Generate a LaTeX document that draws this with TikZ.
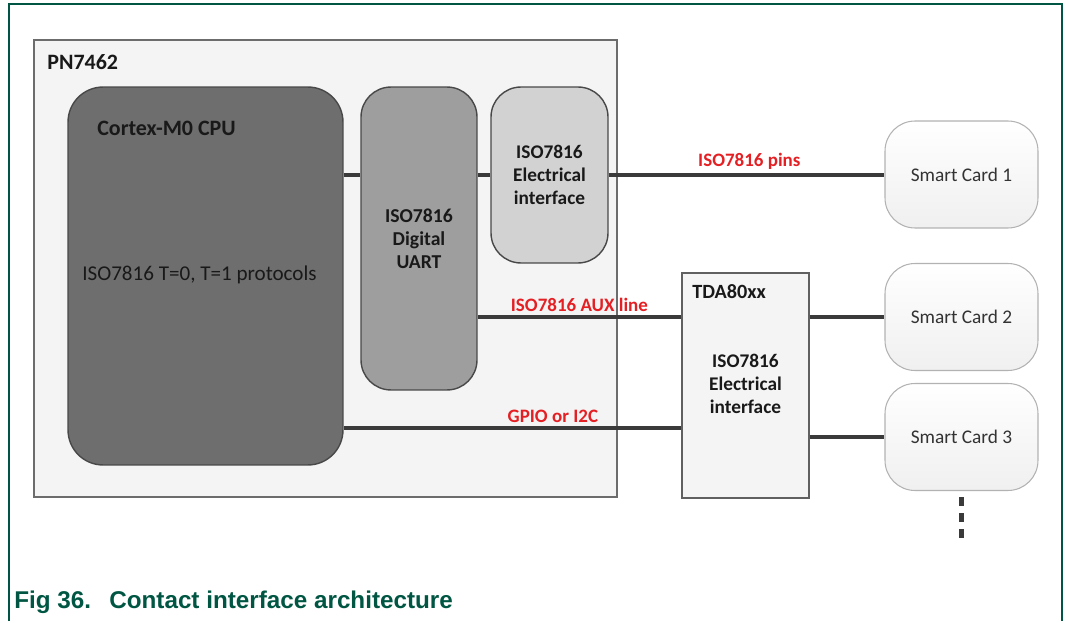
\documentclass[tikz,border=0pt]{standalone}
\usepackage{fontspec}
\setmainfont{Carlito}
\newfontfamily\capfont{Liberation Sans}
\usepackage{xcolor}
\usepackage{tikz}
\usetikzlibrary{positioning}
\definecolor{framegreen}{RGB}{0, 86, 66}
\definecolor{labelred}{RGB}{228, 32, 36}
\definecolor{cpugray}{RGB}{110, 110, 110}
\definecolor{uartgray}{RGB}{158, 158, 158}
\definecolor{elecgray}{RGB}{210, 210, 210}
\definecolor{chipfill}{RGB}{244, 244, 244}
\definecolor{edgegray}{RGB}{72, 72, 72}
\definecolor{wiregray}{RGB}{58, 58, 58}

\begin{document}
\begin{tikzpicture}[
    x=0.02cm, y=-0.02cm,
    chip/.style={rectangle, draw=gray!85!black, fill=chipfill, line width=1pt, inner sep=0pt},
    cpublock/.style={rectangle, draw=edgegray, fill=cpugray, line width=0.8pt, rounded corners=0.7cm, inner sep=0pt},
    uartblock/.style={rectangle, draw=edgegray, fill=uartgray, line width=0.8pt, rounded corners=0.6cm, inner sep=0pt, align=center, font=\bfseries\fontsize{11.2}{13}\selectfont, text=black!90},
    elecblock/.style={rectangle, draw=edgegray, fill=elecgray, line width=0.8pt, rounded corners=0.6cm, inner sep=0pt, align=center, font=\bfseries\fontsize{11}{13}\selectfont, text=black!90},
    card/.style={rectangle, draw=gray!60, top color=white, bottom color=gray!12, line width=0.6pt, rounded corners=0.6cm, minimum width=3.06cm, minimum height=2.14cm, font=\fontsize{11}{13}\selectfont, text=black!80},
    title/.style={font=\bfseries\fontsize{12.5}{15}\selectfont, text=black!90, inner sep=0pt},
    wire/.style={draw=wiregray, line width=2.6pt},
    tag/.style={font=\bfseries\fontsize{10.8}{13}\selectfont, text=labelred, inner sep=2pt},
    ellip/.style={draw=wiregray, line width=2.6pt, dash pattern=on 0.17cm off 0.15cm}
]
    % page frame and caption
    \draw[framegreen, line width=1.2pt] (9,621) -- (9,4) -- (1062,4) -- (1062,621);
    \node[anchor=west, inner sep=0pt, text=framegreen, font=\capfont\bfseries\fontsize{13.8}{16}\selectfont] (caption) at (14,602) {Fig 36.\hspace{0.75em}Contact interface architecture};

    % PN7462 chip
    \node[chip, minimum width=11.66cm, minimum height=9.14cm] (pn) at (325.5,268.5) {};
    \node[title, anchor=west] (pnname) at (47,62) {PN7462};

    \node[cpublock, minimum width=5.5cm, minimum height=7.56cm] (cpu) at (205.5,276) {};
    \node[title, anchor=west] (cpuname) at (97,128) {Cortex-M0 CPU};
    \node[anchor=west, inner sep=0pt, text=black!90, font=\fontsize{12}{14}\selectfont] (proto) at (82,275) {ISO7816 T=0, T=1 protocols};

    \node[uartblock, minimum width=2.32cm, minimum height=6.06cm] (uart) at (419,238.5) {ISO7816\\Digital\\UART};
    \node[elecblock, minimum width=2.34cm, minimum height=3.52cm] (elec) at (549.5,175) {ISO7816\\Electrical\\interface};

    % TDA80xx
    \node[chip, draw=gray!75!black, minimum width=2.54cm, minimum height=4.5cm] (tda) at (745.5,385.5) {};
    \node[title, anchor=west, font=\bfseries\fontsize{11.5}{14}\selectfont] (tdaname) at (692,292) {TDA80xx};
    \node[align=center, inner sep=0pt, font=\bfseries\fontsize{11}{13}\selectfont, text=black!90] (tdaelec) at (745.5,384) {ISO7816\\Electrical\\interface};

    % smart cards
    \node[card] (card1) at (961.5,174.5) {Smart Card 1};
    \node[card] (card2) at (961.5,317) {Smart Card 2};
    \node[card] (card3) at (961.5,437) {Smart Card 3};
    \coordinate (gpio) at (500,428);
    \coordinate (more) at (961.5,541);

    % connections
    \draw[wire] (cpu.east |- elec) -- (uart.west |- elec);
    \draw[wire] (uart.east |- elec) -- (elec.west);
    \draw[wire] (elec.east) -- node[tag, above, pos=0.51] {ISO7816 pins} (card1.west |- elec);
    \draw[wire] (uart.east |- card2) -- node[tag, above] {ISO7816 AUX line} (tda.west |- card2);
    \draw[wire] (cpu.east |- gpio) -- node[tag, above, pos=0.62] {GPIO or I2C} (tda.west |- gpio);
    \draw[wire] (tda.east |- card2) -- (card2.west);
    \draw[wire] (tda.east |- card3) -- (card3.west);
    \draw[ellip] ([yshift=-0.12cm]card3.south) -- (more);

    \useasboundingbox (0,0) rectangle (1069,621);
\end{tikzpicture}
\end{document}
